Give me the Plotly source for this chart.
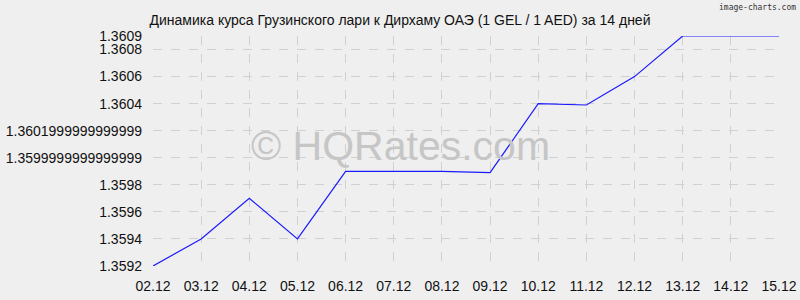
import plotly.graph_objects as go

dates = ["02.12", "03.12", "04.12", "05.12", "06.12", "07.12", "08.12",
         "09.12", "10.12", "11.12", "12.12", "13.12", "14.12", "15.12"]
rates = [1.3592, 1.3594, 1.3597, 1.3594, 1.3599, 1.3599, 1.3599,
         1.35989, 1.3604, 1.36039, 1.3606, 1.3609, 1.3609, 1.3609]
ytick_vals = [1.3592, 1.3594, 1.3596, 1.3598, 1.36, 1.3602, 1.3604, 1.3606, 1.3608, 1.3609]
ytick_text = ["1.3592", "1.3594", "1.3596", "1.3598", "1.3599999999999999",
              "1.3601999999999999", "1.3604", "1.3606", "1.3608", "1.3609"]
title = "Динамика курса Грузинского лари к Дирхаму ОАЭ (1 GEL / 1 AED) за 14 дней"

fig = go.Figure()
fig.add_trace(go.Scatter(x=dates, y=rates, mode="lines",
                         line=dict(color="#1a1aff", width=1.2), hoverinfo="skip"))

fig.update_layout(
    width=800, height=300,
    margin=dict(l=153, r=21, t=36, b=34, autoexpand=False),
    paper_bgcolor="#efefef", plot_bgcolor="#efefef",
    font=dict(family="Liberation Sans, Arial, sans-serif", size=14, color="#111"),
    showlegend=False,
    title=dict(text=title, x=0.5, xanchor="center", y=1 - 20 / 300, yanchor="middle",
               xref="container", yref="container",
               font=dict(size=14, color="#111")),
    xaxis=dict(type="category", range=[0, len(dates) - 1], showgrid=True,
               gridcolor="#d0d0d0", griddash="dash", gridwidth=1,
               zeroline=False, showline=False, ticks="", ticklabelstandoff=10,
               automargin=False, fixedrange=True),
    yaxis=dict(range=[ytick_vals[0], ytick_vals[-1]], tickmode="array",
               tickvals=ytick_vals, ticktext=ytick_text, showgrid=True,
               gridcolor="#d0d0d0", griddash="dash", gridwidth=1,
               zeroline=False, showline=False, ticks="", ticklabelstandoff=10,
               automargin=False, fixedrange=True),
    annotations=[
        dict(text="© HQRates.com", xref="paper", yref="paper", x=0.395, y=0.52,
             xanchor="center", yanchor="middle", showarrow=False,
             font=dict(family="Liberation Sans, Arial, sans-serif", size=41, color="#c6c6c6")),
        dict(text="image-charts.com", xref="paper", yref="paper", x=1.0304, y=1.126,
             xanchor="right", yanchor="middle", showarrow=False,
             font=dict(family="DejaVu Sans Mono, monospace", size=8, color="#333")),
    ],
)

fig.write_html("out.html")
